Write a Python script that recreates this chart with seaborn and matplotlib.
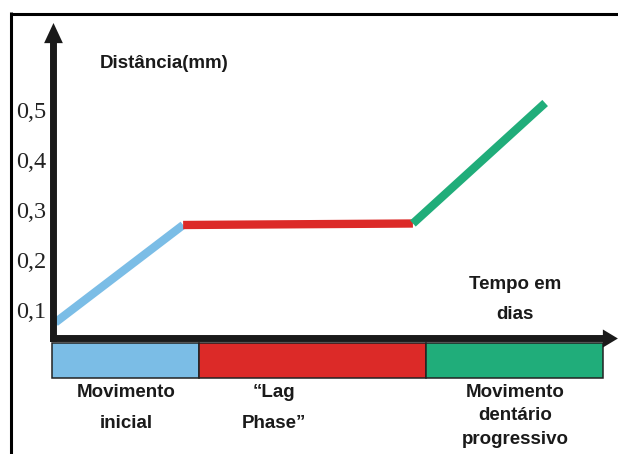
import matplotlib
matplotlib.use('Agg')
import matplotlib.pyplot as plt
from matplotlib.lines import Line2D
import pandas as pd
import seaborn as sns

# Dados (tempo em unidades arbitrárias de 0 a 100)
fases = ['Movimento\ninicial', '\u201cLag\nPhase\u201d', 'Movimento\ndentário\nprogressivo']
cores = ['#7BBDE6', '#DC2A28', '#20AD7A']
inicio_fase = [0, 26.6, 67.9]
fim_fase = [26.6, 67.9, 100]
pos_rotulo = [13.4, 40.3, 84.0]

tempo_ini = [0.6, 23.8, 65.5]
tempo_fim = [23.8, 65.5, 89.5]
dist_ini = [0.075, 0.270, 0.273]
dist_fim = [0.270, 0.273, 0.514]

yticks = [0.1, 0.2, 0.3, 0.4, 0.5]
ytick_labels = ['0,1', '0,2', '0,3', '0,4', '0,5']

sns.set_theme(style='white')
plt.rcParams['font.family'] = ['Liberation Sans', 'DejaVu Sans']

df = pd.DataFrame({
    'tempo': tempo_ini + tempo_fim,
    'dist': dist_ini + dist_fim,
    'fase': fases + fases,
})

W, H = 618, 454
fig = plt.figure(figsize=(W / 100, H / 100), dpi=100)
ax = fig.add_axes([52 / W, (H - 380) / H, 551 / W, 360 / H])
ax.set_xlim(0, 100)
ax.set_ylim(-0.04, 0.68)

# linhas de cada fase
sns.lineplot(data=df, x='tempo', y='dist', hue='fase', hue_order=fases,
             palette=cores, linewidth=6, legend=False, ax=ax,
             solid_capstyle='butt')

# barras das fases por baixo do eixo
larguras = [f - i for i, f in zip(inicio_fase, fim_fase)]
ax.barh(0, larguras, left=inicio_fase, height=0.07, color=cores,
        edgecolor='#222222', linewidth=1.1, clip_on=False)

# eixos com setas
seta_y = dict(arrowstyle='simple,tail_width=0.5,head_width=1.35,head_length=1.45',
              color='#1a1a1a', lw=0, shrinkA=0, shrinkB=0, mutation_scale=10, clip_on=False)
seta_x = dict(arrowstyle='simple,tail_width=0.5,head_width=1.3,head_length=1.08',
              color='#1a1a1a', lw=0, shrinkA=0, shrinkB=0, mutation_scale=10, clip_on=False)
ax.annotate('', xy=(0.27, 0.674), xytext=(0.27, 0.036), arrowprops=seta_y, annotation_clip=False)
ax.annotate('', xy=(102.7, 0.043), xytext=(-0.36, 0.043), arrowprops=seta_x, annotation_clip=False)

ax.set_yticks(yticks)
ax.set_yticklabels(ytick_labels, fontfamily='Liberation Serif', fontsize=17.5, color='#222222')
ax.set_xticks([])
ax.tick_params(axis='y', length=0, pad=3.8)
ax.set_xlabel('')
ax.set_ylabel('')
for s in ax.spines.values():
    s.set_visible(False)
ax.patch.set_alpha(0)

# textos
txt = dict(fontsize=13.5, fontweight='bold', color='#1a1a1a', ha='center', va='center')
ax.text(20.3, 0.594, 'Distância(mm)', **txt)
ax.text(84.0, 0.121, 'Tempo em\ndias', linespacing=2.0, **txt)
ax.text(pos_rotulo[0], -0.096, fases[0], linespacing=2.02, **txt)
ax.text(pos_rotulo[1], -0.096, fases[1], linespacing=2.02, **txt)
ax.text(pos_rotulo[2], -0.112, fases[2], linespacing=1.53, **txt)

# moldura
fig.add_artist(Line2D([10.5 / W, 1], [1 - 13.5 / H] * 2, transform=fig.transFigure,
                      lw=2.2, color='black', solid_capstyle='butt'))
fig.add_artist(Line2D([11 / W] * 2, [0, 1 - 12 / H], transform=fig.transFigure,
                      lw=2.2, color='black', solid_capstyle='butt'))

fig.savefig('out.png', dpi=100)
